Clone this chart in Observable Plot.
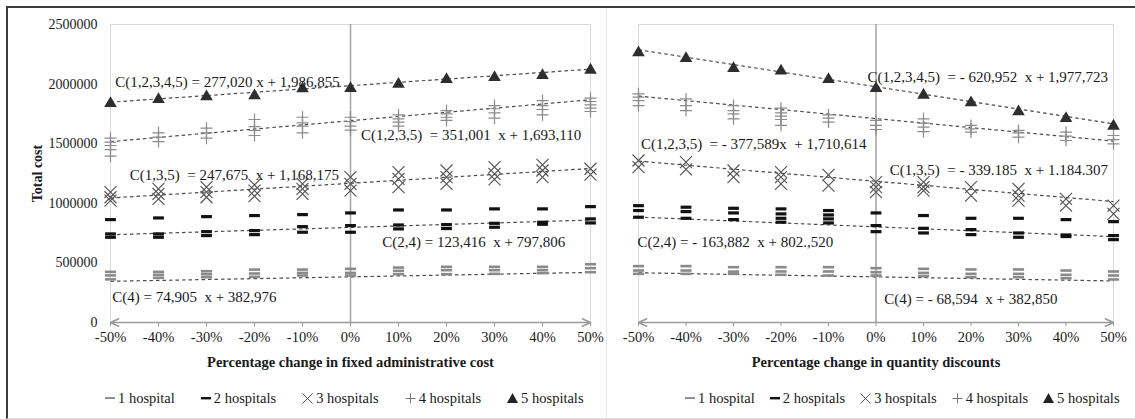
<!DOCTYPE html>
<html><head><meta charset="utf-8">
<script src="https://cdn.jsdelivr.net/npm/d3@7"></script>
<script src="https://cdn.jsdelivr.net/npm/@observablehq/plot@0.6"></script>
<style>
html,body{margin:0;padding:0;background:#fff;}
body{width:1135px;height:419px;overflow:hidden;position:relative;font-family:"Liberation Serif",serif;color:#1a1a1a;}
.frame{position:absolute;left:6px;top:6px;width:1135px;height:410px;border-top:2px solid #3c3c3c;border-left:2px solid #3c3c3c;border-bottom:1px solid #ddd;box-sizing:content-box;}
.sep{position:absolute;left:606px;top:8px;width:1px;height:410px;background:#e8e8e8;}
.panel{position:absolute;top:8px;}
.panel svg{display:block;overflow:visible;}
.panel svg text{white-space:pre;}
[aria-label="x-axis label"] text,[aria-label="y-axis label"] text,[aria-label="x-axis label"],[aria-label="y-axis label"]{font-weight:bold;}
.legend{position:absolute;top:389px;display:flex;font-size:14.5px;line-height:18px;white-space:nowrap;}
.legend .it{display:flex;align-items:center;}
.legend svg{margin-right:2px;}
</style></head>
<body>
<div class="frame"></div><div class="sep"></div>
<div id="left" class="panel" style="left:8px"></div>
<div id="right" class="panel" style="left:608px"></div>
<div id="legL" class="legend" style="left:104px;gap:25px"></div>
<div id="legR" class="legend" style="left:684px;gap:14px"></div>
<script>
// ---------- data ----------
const pctChange = [-0.5,-0.4,-0.3,-0.2,-0.1,0,0.1,0.2,0.3,0.4,0.5];
const xTicks = [-0.5,-0.4,-0.3,-0.2,-0.1,0,0.1,0.2,0.3,0.4,0.5];
const yTicks = [0,500000,1000000,1500000,2000000,2500000];
const legendLabels = ["1 hospital","2 hospitals","3 hospitals","4 hospitals","5 hospitals"];

// Left: percentage change in fixed administrative cost
const adminH1 = [[425000,395000,362000],[425000,400000,375000],[430000,405000,380000],[444000,411000,383000],[444000,416000,394000],[450000,416000,394000],[461000,433000,405000],[467000,439000,405000],[467000,439000,408000],[467000,439000,414000],[489000,456000,422000]];
const adminH2 = [[864000,744000,716000],[878000,744000,716000],[889000,763000,730000],[898000,772000,738000],[906000,805000,758000],[920000,814000,758000],[945000,819000,786000],[945000,822000,789000],[954000,833000,800000],[954000,842000,825000],[973000,870000,836000]];
const adminH3 = [[1093000,1051000,1023000],[1121000,1079000,1037000],[1135000,1093000,1051000],[1155000,1107000,1060000],[1163000,1121000,1079000],[1219000,1163000,1107000],[1261000,1205000,1135000],[1275000,1219000,1163000],[1303000,1247000,1200000],[1323000,1275000,1219000],[1290000,1240000]];
const adminH4 = [[1546000,1513000,1485000,1451000,1395000],[1591000,1555000,1518000],[1630000,1591000,1546000],[1703000,1644000,1611000,1569000],[1722000,1675000,1647000,1591000],[1722000,1686000,1647000,1614000],[1742000,1709000,1681000,1647000],[1778000,1751000,1722000,1695000],[1820000,1793000,1759000,1714000],[1862000,1820000,1787000,1742000],[1882000,1854000,1826000,1798000,1770000]];
const adminH5 = [[1848000],[1882000],[1904000],[1913000],[1971000],[1974000],[2010000],[2050000],[2066000],[2083000],[2128000]];
const adminSlopes = [74905,123416,247675,351001,277020];
const adminIntercepts = [382976,797806,1168175,1693110,1986855];
const adminEquations = ["C(4) = 74,905  x + 382,976","C(2,4) = 123,416  x + 797,806","C(1,3,5)  = 247,675  x + 1,168,175","C(1,2,3,5)  = 351,001  x + 1,693,110","C(1,2,3,4,5) = 277,020 x + 1,986,855"];
const adminEqX = [-0.4965,0.066,-0.46,0.022,-0.49];
const adminEqY = [212000,673600,1233000,1569000,2013000];

// Right: percentage change in quantity discounts
const discH1 = [[473000,436000,408000],[473000,436000,408000],[464000,427000,408000],[464000,428000,400000],[464000,428000,394000],[456000,422000,394000],[450000,416000,389000],[445000,408000,380000],[445000,408000,380000],[436000,400000,372000],[428000,394000,361000]];
const discH2 = [[981000,940000,884000],[968000,931000,875000],[959000,920000,864000],[954000,912000,875000,842000],[940000,903000,870000,836000],[920000,814000,763000],[898000,791000,752000],[875000,780000,738000],[875000,752000,716000],[864000,735000,722000],[847000,730000,696000]];
const discH3 = [[1359000,1303000],[1345000,1284000],[1275000,1219000],[1261000,1219000,1163000],[1239000,1149000],[1177000,1135000,1093000],[1177000,1135000,1107000],[1135000,1065000],[1121000,1065000,1023000],[1037000,981000],[981000,912000]];
const discH4 = [[1918000,1890000,1862000,1820000],[1876000,1820000,1778000],[1820000,1778000,1751000,1709000],[1798000,1759000,1731000,1703000,1653000],[1742000,1714000,1681000],[1695000,1653000,1619000],[1709000,1672000,1639000,1602000],[1653000,1625000,1597000],[1611000,1591000,1555000],[1597000,1563000,1527000],[1569000,1535000,1499000]];
const discH5 = [[2273000],[2226000],[2142000],[2120000],[2050000],[1974000],[1918000],[1854000],[1778000],[1722000],[1658000]];
const discSlopes = [-68594,-163882,-339185,-377589,-620952];
const discIntercepts = [382850,802520,1184307,1710614,1977723];
const discEquations = ["C(4) = - 68,594  x + 382,850","C(2,4) = - 163,882  x + 802.,520","C(1,3,5)  = - 339.185  x + 1.184.307","C(1,2,3,5)  = - 377,589x  + 1,710,614","C(1,2,3,4,5)  = - 620,952  x + 1,977,723"];
const discEqX = [0.0175,-0.502,0.029,-0.495,-0.018];
const discEqY = [199000,673600,1275000,1499000,2058000];

// ---------- symbols ----------
const rad = s => Math.sqrt(s / Math.PI);
const symThinDash = {draw(c, s){const r = rad(s); c.rect(-r, -1.3, 2*r, 2.6);}};
const symThickDash = {draw(c, s){const r = rad(s); c.rect(-r, -1.5, 2*r, 3.2);}};
const symTimes = {draw(c, s){const r = rad(s); c.moveTo(-r,-r); c.lineTo(r,r); c.moveTo(-r,r); c.lineTo(r,-r);}};
const symPlus = {draw(c, s){const r = rad(s); c.moveTo(-r,0); c.lineTo(r,0); c.moveTo(0,-r); c.lineTo(0,r);}};
const symTri = {draw(c, s){const r = rad(s); c.moveTo(0,-r); c.lineTo(r*1.05,r*0.8); c.lineTo(-r*1.05,r*0.8); c.closePath();}};

const catStyles = [
  {symbol: symThinDash, r: 5.6, fill: "#8a8a8a", stroke: "none"},
  {symbol: symThickDash, r: 5.4, fill: "#111", stroke: "none"},
  {symbol: symTimes, r: 6, fill: "none", stroke: "#555", strokeWidth: 1.15},
  {symbol: symPlus, r: 6, fill: "none", stroke: "#8c8c8c", strokeWidth: 1.2},
  {symbol: symTri, r: 6, fill: "#2e2e2e", stroke: "none"}
];

function records(series){
  const out = [];
  series.forEach((arr, c) => arr.forEach((vals, i) => vals.forEach(v => out.push({cat: c, x: pctChange[i], y: v}))));
  return out;
}

const xDomain = [pctChange[0], pctChange[pctChange.length-1]];
const pctFmt = d => Math.round(d*100) + "%";

function panel({series, slopes, intercepts, eqs, eqX, eqY, width, marginLeft, marginRight, showY, xLabel}){
  const data = records(series);
  const trends = slopes.map((s, i) => ({slope: s, intercept: intercepts[i]}));
  const labels = eqs.map((t, i) => ({text: t, x: eqX[i], y: eqY[i]}));
  const marks = [
    Plot.frame({stroke: "#d9d9d9"}),
    Plot.ruleX([0], {stroke: "#a8a8a8", strokeWidth: 1.6}),
    Plot.axisX({ticks: xTicks, tickFormat: pctFmt, tickSize: 4, tickPadding: 5, stroke: "#999", fill: "#1a1a1a", fontSize: 14.5,
      label: xLabel, labelAnchor: "center", labelOffset: 44, labelArrow: "none"}),
    Plot.arrow(xDomain, {x1: () => 0, y1: () => 0, x2: d => d, y2: () => 0, stroke: "#9a9a9a", strokeWidth: 1.5, headLength: 9, headAngle: 50}),
    Plot.link(trends, {x1: () => xDomain[0], x2: () => xDomain[1], y1: d => d.intercept + d.slope*xDomain[0], y2: d => d.intercept + d.slope*xDomain[1],
      stroke: "#4a4a4a", strokeWidth: 1.2, strokeDasharray: "3.5,3"}),
  ];
  if (showY) marks.push(Plot.axisY({ticks: yTicks, tickFormat: d => String(d), tickSize: 0, tickPadding: 13, fill: "#1a1a1a", fontSize: 14,
      label: "Total cost", labelAnchor: "center", labelOffset: 78, labelArrow: "none"}));
  catStyles.forEach((st, c) => {
    marks.push(Plot.dot(data.filter(d => d.cat === c), {x: "x", y: "y", ...st}));
  });
  marks.push(Plot.text(labels, {x: "x", y: "y", text: "text", textAnchor: "start", fontSize: 15, fill: "#1a1a1a"}));
  return Plot.plot({
    width, height: 362, marginLeft, marginRight, marginTop: 16, marginBottom: 48,
    x: {domain: xDomain},
    y: {domain: [yTicks[0], yTicks[yTicks.length-1]], axis: showY ? undefined : null},
    style: {fontFamily: '"Liberation Serif", serif', fontSize: "14.5px", color: "#1a1a1a", background: "transparent", overflow: "visible"},
    marks
  });
}

document.getElementById("left").append(panel({series: [adminH1, adminH2, adminH3, adminH4, adminH5], slopes: adminSlopes, intercepts: adminIntercepts,
  eqs: adminEquations, eqX: adminEqX, eqY: adminEqY, width: 598, marginLeft: 102, marginRight: 16, showY: true,
  xLabel: "Percentage change in fixed administrative cost"}));
document.getElementById("right").append(panel({series: [discH1, discH2, discH3, discH4, discH5], slopes: discSlopes, intercepts: discIntercepts,
  eqs: discEquations, eqX: discEqX, eqY: discEqY, width: 527, marginLeft: 30, marginRight: 22, showY: false,
  xLabel: "Percentage change in quantity discounts"}));

// ---------- legends ----------
const legendIcons = [
  '<svg width="12" height="12"><rect x="1" y="5.4" width="10" height="1.3" fill="#555"/></svg>',
  '<svg width="12" height="12"><rect x="1" y="5" width="10" height="2.4" fill="#111"/></svg>',
  '<svg width="13" height="12"><path d="M1.5 1.5L11.5 11.5M1.5 11.5L11.5 1.5" stroke="#555" stroke-width="1"/></svg>',
  '<svg width="13" height="12"><path d="M1.5 6.5H11.5M6.5 1.5V11.5" stroke="#777" stroke-width="1"/></svg>',
  '<svg width="13" height="12"><path d="M6.5 1L12 11H1Z" fill="#222"/></svg>'
];
for (const id of ["legL", "legR"]) {
  const el = document.getElementById(id);
  legendLabels.forEach((t, i) => {
    const it = document.createElement("div");
    it.className = "it";
    it.innerHTML = legendIcons[i] + "<span>" + t + "</span>";
    el.append(it);
  });
}
</script>
</body></html>
